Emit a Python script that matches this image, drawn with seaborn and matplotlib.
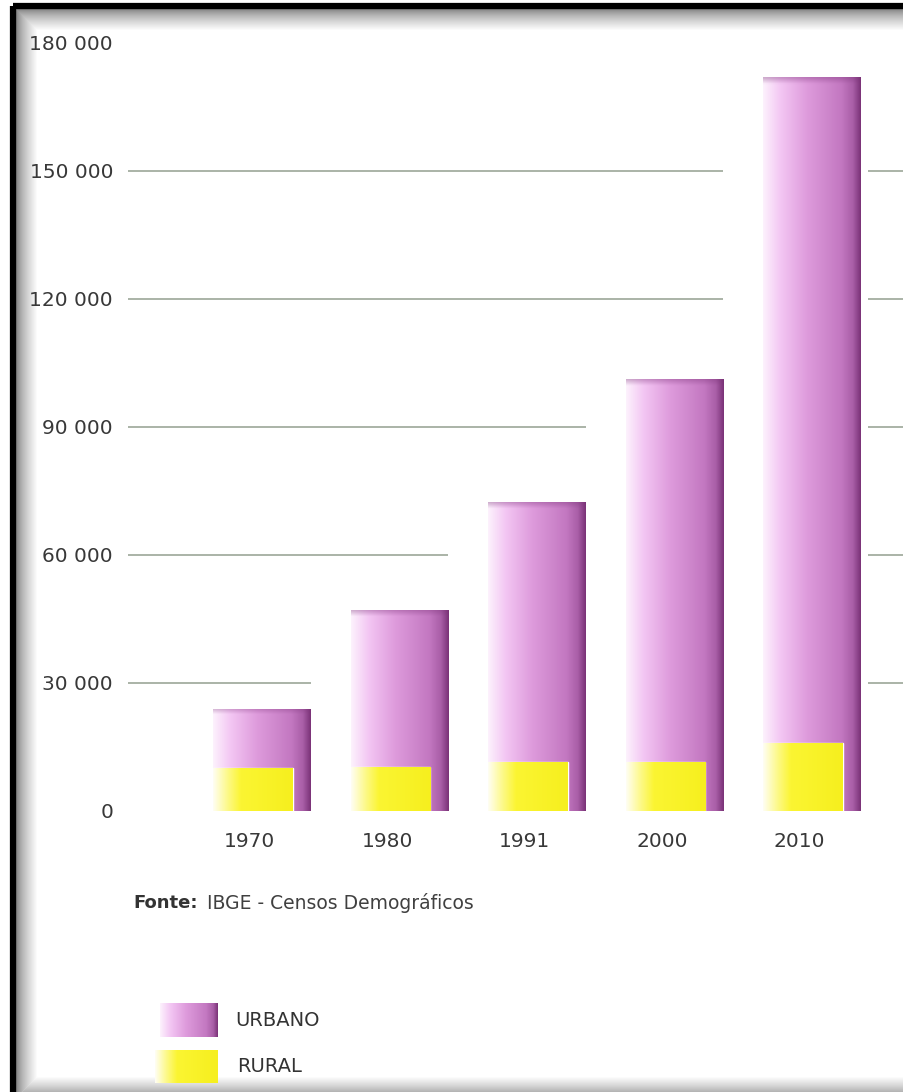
import numpy as np
import pandas as pd
import matplotlib
matplotlib.use("Agg")
import matplotlib.pyplot as plt
import seaborn as sns
from matplotlib.colors import LinearSegmentedColormap
from matplotlib.patches import Rectangle
from matplotlib.ticker import FuncFormatter

# ---------------- data ----------------
years = ["1970", "1980", "1991", "2000", "2010"]
urbano = [24000, 47100, 72400, 101200, 172000]
rural = [10100, 10300, 11500, 11500, 15900]
y_ticks = [0, 30000, 60000, 90000, 120000, 150000, 180000]
grid_levels = [30000, 60000, 90000, 120000, 150000]
legend_labels = ["URBANO", "RURAL"]
source_bold = "Fonte:"
source_text = "IBGE - Censos Demográficos"

W, H = 904, 1092
sns.set_theme(style="white")
plt.rcParams["font.family"] = ["DejaVu Sans"]

fig = plt.figure(figsize=(W / 100, H / 100), dpi=100)
fig.patch.set_facecolor("white")

# background / decoration axes in pixel coordinates
bg = fig.add_axes([0, 0, 1, 1], zorder=0)
bg.set_xlim(0, W)
bg.set_ylim(H, 0)
bg.axis("off")

# main axes
Y0, Y1 = 811, 43
X_LEFT = 120
ax = fig.add_axes([X_LEFT / W, (H - Y0) / H, (W - X_LEFT) / W, (Y0 - Y1) / H], zorder=1)
ax.set_facecolor("none")

df = pd.DataFrame({"ano": years, "urbano": urbano, "rural": rural})
UW, RW, ROFF = 0.71, 0.58, -0.065

sns.barplot(data=df, x="ano", y="urbano", width=UW, color="#c77cc5", ax=ax, zorder=2)
n_u = len(ax.patches)
urban_patches = list(ax.patches[:n_u])
sns.barplot(data=df, x="ano", y="rural", width=RW, color="#f6f020", ax=ax, zorder=3)
rural_patches = list(ax.patches[n_u:])
for p in rural_patches:
    p.set_x(p.get_x() + ROFF)

urb_cmap = LinearSegmentedColormap.from_list(
    "urb", [(0, "#fdf2fd"), (0.18, "#f3c6f3"), (0.45, "#de9bdc"),
            (0.8, "#c378c1"), (0.92, "#a95ea7"), (1, "#7a3277")])
rur_cmap = LinearSegmentedColormap.from_list(
    "rur", [(0, "#fffef4"), (0.18, "#fdf98a"), (0.35, "#fbf532"), (1, "#f6ef1e")])

px_per_unit = (Y0 - Y1) / 180000.0
XMIN, XMAX = (X_LEFT - 262) / 137.5, (W - 262) / 137.5


def fill_gradient(target, patch, cmap, z, top_dark=0):
    x0, y0 = patch.get_x(), patch.get_y()
    w, h = patch.get_width(), patch.get_height()
    rows = 400
    grad = np.linspace(0, 1, 256)[None, :]
    img = cmap(np.repeat(grad, rows, axis=0))[:, :, :3]
    if top_dark:
        hp = h * px_per_unit
        frac = min(top_dark / hp, 0.5)
        yy = np.linspace(0, 1, rows)[:, None]
        k = np.clip((yy - (1 - frac)) / frac, 0, 1) * 0.35
        dark = np.array([0.48, 0.2, 0.47])
        img = img * (1 - k[..., None]) + dark * k[..., None]
    im = target.imshow(img, extent=[x0, x0 + w, y0, y0 + h], aspect="auto",
                       origin="lower", zorder=z, interpolation="bilinear")
    im.set_clip_path(patch)


for p in urban_patches:
    fill_gradient(ax, p, urb_cmap, 2.5, top_dark=6)
for p in rural_patches:
    fill_gradient(ax, p, rur_cmap, 3.5)

ax.set_xlim(XMIN, XMAX)
ax.set_ylim(0, 180000)

# partial grid lines (hidden where bars stand)
grid_left = (128 - 262) / 137.5
gcol = "#939f90"
for lev in grid_levels:
    idx = next(i for i, v in enumerate(urbano) if v > lev)
    ax.hlines(lev, grid_left, idx - 1 + UW / 2, color=gcol, lw=1.1, zorder=1)
    ax.hlines(lev, len(years) - 1 + UW / 2 + 0.05, XMAX, color=gcol, lw=1.1, zorder=1)

ax.set_yticks(y_ticks)
ax.yaxis.set_major_formatter(FuncFormatter(lambda v, p: f"{int(v):,}".replace(",", " ")))
ax.set_xticks(np.arange(len(years)) - 0.09, labels=years)
ax.tick_params(axis="y", length=0, pad=5, labelsize=14.5, labelcolor="#383838")
ax.tick_params(axis="x", length=0, pad=15, labelsize=14.5, labelcolor="#383838")
ax.set_xlabel("")
ax.set_ylabel("")
ax.grid(False)
sns.despine(ax=ax, left=True, bottom=True)

# ---------------- frame with shadow ----------------
FL, FT, FB = 13, 6, 1100
for k in range(22):
    off = 3 + k
    g = 0.5 + 0.5 * (k / 21) ** 0.7
    bg.add_patch(Rectangle((FL + off, FT + off), W + 60, FB - FT - 2 * off,
                           fill=False, ec=(g, g, g), lw=0.8))
bg.add_patch(Rectangle((FL, FT), W + 60, FB - FT, fill=False, ec="black", lw=4.5))

# ---------------- source ----------------
bg.text(133, 903, source_bold, fontsize=13, weight="bold", color="#333333", va="center")
bg.text(207, 903, source_text, fontsize=13.5, color="#404040", va="center")

# ---------------- legend ----------------
sw_u = Rectangle((160, 1003), 58, 34, fc="none", ec="none")
sw_r = Rectangle((155, 1050), 63, 33, fc="none", ec="none")
bg.add_patch(sw_u)
bg.add_patch(sw_r)
for sw, cm in [(sw_u, urb_cmap), (sw_r, rur_cmap)]:
    x0, y0 = sw.get_x(), sw.get_y()
    w, h = sw.get_width(), sw.get_height()
    img = cm(np.repeat(np.linspace(0, 1, 256)[None, :], 10, axis=0))[:, :, :3]
    bg.imshow(img, extent=[x0, x0 + w, y0 + h, y0], aspect="auto", zorder=2,
              interpolation="bilinear")
bg.set_xlim(0, W)
bg.set_ylim(H, 0)
bg.text(235, 1020, legend_labels[0], fontsize=14, color="#333333", va="center")
bg.text(237, 1066, legend_labels[1], fontsize=14, color="#333333", va="center")

fig.savefig("out.png", dpi=100, facecolor="white")
